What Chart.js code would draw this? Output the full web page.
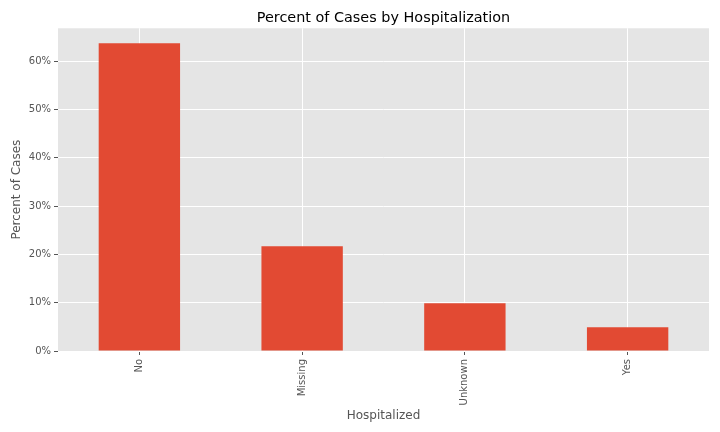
<!DOCTYPE html>
<html>
<head>
<meta charset="utf-8">
<script src="https://cdn.jsdelivr.net/npm/chart.js@4"></script>
<style>
  html, body { margin: 0; padding: 0; background: #fff; }
  canvas { display: block; }
</style>
</head>
<body>
<canvas id="hospChart" width="720" height="432"></canvas>
<script>
// data
const categories = ['No', 'Missing', 'Unknown', 'Yes'];
const percentCases = [63.7, 21.7, 9.9, 4.9];
const yMax = 66.8;

const textColor = '#555555';
const fontFamily = "'DejaVu Sans', sans-serif";

// grey panel behind the bars
const panelBg = {
    id: 'panelBg',
    beforeDraw(chart) {
        const { ctx, chartArea: a } = chart;
        ctx.save();
        ctx.fillStyle = '#E5E5E5';
        ctx.fillRect(a.left, a.top, a.right - a.left, a.bottom - a.top);
        ctx.restore();
    }
};

const ctx = document.getElementById('hospChart');
new Chart(ctx, {
    type: 'bar',
    data: {
        labels: categories,
        datasets: [{
            data: percentCases,
            backgroundColor: '#E24A33',
            borderWidth: 0,
            barPercentage: 0.5,
            categoryPercentage: 1.0
        }]
    },
    options: {
        responsive: false,
        animation: false,
        layout: { padding: { left: 0, right: 11, top: 0, bottom: 0 } },
        plugins: {
            legend: { display: false },
            tooltip: { enabled: false },
            title: {
                display: true,
                text: 'Percent of Cases by Hospitalization',
                color: '#000',
                fullSize: false,
                font: { family: fontFamily, size: 14.4, weight: 'normal' },
                padding: { top: 10, bottom: 1 }
            }
        },
        scales: {
            x: {
                grid: { color: '#FFFFFF', lineWidth: 1, offset: false, tickColor: textColor, tickLength: 4 },
                border: { display: false },
                ticks: {
                    color: textColor,
                    font: { family: fontFamily, size: 10 },
                    minRotation: 90,
                    maxRotation: 90,
                    padding: 4
                },
                title: {
                    display: true,
                    text: 'Hospitalized',
                    color: textColor,
                    font: { family: fontFamily, size: 12 },
                    padding: { top: 0, bottom: 9 }
                },
                afterFit(scale) { scale.height = 81; }
            },
            y: {
                min: 0,
                max: yMax,
                grid: { color: '#FFFFFF', lineWidth: 1, tickColor: textColor, tickLength: 4 },
                border: { display: false },
                ticks: {
                    stepSize: 10,
                    includeBounds: false,
                    color: textColor,
                    font: { family: fontFamily, size: 10 },
                    padding: 3,
                    callback: v => v + '%'
                },
                title: {
                    display: true,
                    text: 'Percent of Cases',
                    color: textColor,
                    font: { family: fontFamily, size: 12 },
                    padding: { top: 10, bottom: 0 }
                },
                afterFit(scale) { scale.width = 58; }
            }
        }
    },
    plugins: [panelBg]
});
</script>
</body>
</html>
